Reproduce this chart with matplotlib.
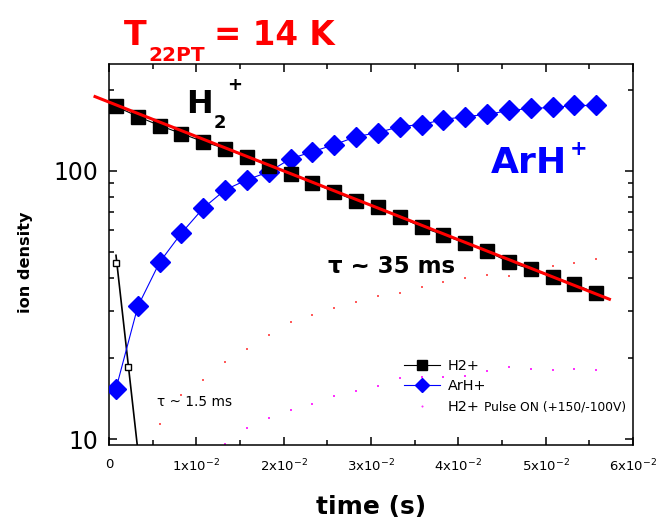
import numpy as np
import matplotlib.pyplot as plt
from matplotlib.ticker import LogLocator, NullFormatter
from matplotlib.lines import Line2D

plt.rcParams['font.family'] = ['DejaVu Sans']

# measurement times (s)
t = [0.0008, 0.0033, 0.0058, 0.0083, 0.0108, 0.0133, 0.0158, 0.0183,
     0.0208, 0.0233, 0.0258, 0.0283, 0.0308, 0.0333, 0.0358, 0.0383,
     0.0408, 0.0433, 0.0458, 0.0483, 0.0508, 0.0533, 0.0558]

h2 = [173.7, 159.3, 147.4, 137.6, 128.4, 120.9, 112.8, 104.4, 97.4, 90.2,
      83.4, 77.2, 73.3, 67.3, 61.7, 57.6, 53.7, 50.2, 45.6, 43.0, 40.1,
      37.8, 34.9]
arh = [15.4, 31.2, 45.6, 58.6, 72.6, 84.9, 92.5, 99.1, 110.9, 117.8, 125.1,
       134.0, 138.8, 146.1, 148.7, 155.2, 159.3, 162.1, 167.8, 170.7, 172.2,
       175.1, 175.1]

# pulse ON runs (tiny dots)
arh_pulse = [11.4, 14.6, 16.6, 19.4, 21.7, 24.5, 27.2, 28.9, 30.9, 32.3, 34.0,
             34.9, 36.8, 38.4, 39.7, 40.8, 40.4, 42.6, 44.1, 45.2, 46.8]
h2_pulse = [9.58, 11.0, 12.0, 12.8, 13.5, 14.5, 15.1, 15.7, 16.9, 17.1, 17.1,
            17.2, 18.0, 18.6, 18.3, 18.1, 18.3, 18.1]
h2_open_t = [0.0008, 0.00217]
h2_open = [45.2, 18.6]

# fit lines (end points)
fit_t = [-0.0016, 0.0573]
fit_v = [189, 33.2]
fast_t = [0.0008, 0.0034]
fast_v = [48.4, 8.5]

xticks = [0, 0.01, 0.02, 0.03, 0.04, 0.05, 0.06]
xlabels = ['0'] + [r'%dx10$^{\mathregular{-2}}$' % i for i in range(1, 7)]

W, H = 659, 523
fig = plt.figure(figsize=(W / 100, H / 100), dpi=100)
ax = fig.add_axes([109 / W, 1 - 445 / H, (633 - 109) / W, (445 - 64) / H])


def px(x, y):
    return x / W, 1 - y / H


ax.plot(t[2:], arh_pulse, 's', color='#ff5a5a', ms=1.6, mew=0, zorder=1)
ax.plot(t[5:], h2_pulse, 's', color='#ff30ff', ms=1.6, mew=0, zorder=1)

ax.plot(fast_t, fast_v, color='black', lw=1.2, zorder=2)
ax.plot(h2_open_t, h2_open, 's', mfc='white', mec='black', ms=5, mew=1, zorder=3)

ax.plot(t, arh, '-D', color='blue', lw=0.8, ms=10, zorder=3)
ax.plot(t, h2, '-s', color='black', lw=0.8, ms=10.5, zorder=4)
ax.plot(fit_t, fit_v, color='red', lw=2.2, zorder=5, clip_on=False)

ax.set_yscale('log')
ax.set_xlim(0, 0.06)
ax.set_ylim(9.5, 250)
ax.set_xticks(xticks, xlabels, fontsize=9.5)
ax.xaxis.set_minor_locator(plt.MultipleLocator(0.005))
ax.set_yticks([10, 100], ['10', '100'], fontsize=17)
ax.yaxis.set_minor_locator(LogLocator(base=10, subs=np.arange(2, 10)))
ax.yaxis.set_minor_formatter(NullFormatter())
ax.tick_params(which='both', direction='in', top=True, right=True, width=1.1)
ax.tick_params(which='major', length=6)
ax.tick_params(which='minor', length=3.5)
ax.tick_params(axis='x', pad=9)
ax.tick_params(axis='y', pad=8)
for s in ax.spines.values():
    s.set_linewidth(1.1)

ax.set_xlabel('time (s)', fontsize=18, fontweight='bold', labelpad=15)
ax.set_ylabel('ion density', fontsize=11.6, fontweight='bold')
ax.yaxis.set_label_coords(-0.145, 0.48)

# title
fig.text(*px(124, 45), 'T', color='red', fontsize=24, fontweight='bold')
fig.text(*px(148, 61), '22PT', color='red', fontsize=14.5, fontweight='bold')
fig.text(*px(214, 45), '= 14 K', color='red', fontsize=23.5, fontweight='bold')

# species labels
fig.text(*px(186, 113), 'H', fontsize=23, fontweight='bold')
fig.text(*px(214, 128), '2', fontsize=13, fontweight='bold')
fig.text(*px(227, 90), '+', fontsize=13, fontweight='bold')
fig.text(*px(491, 173), 'ArH', color='blue', fontsize=26, fontweight='bold')
fig.text(*px(570, 155), '+', color='blue', fontsize=15, fontweight='bold')

fig.text(*px(328, 273), 'τ ~ 35 ms', fontsize=16.5, fontweight='bold')
fig.text(*px(157, 406), 'τ ~ 1.5 ms', fontsize=9.8)

handles = [Line2D([], [], color='black', lw=0.8, marker='s', ms=7),
           Line2D([], [], color='blue', lw=0.8, marker='D', ms=7),
           Line2D([], [], color='#ff30ff', lw=0, marker='s', ms=0.5)]
ax.legend(handles, ['H2+', 'ArH+', 'H2+'], loc='upper left',
          bbox_to_anchor=px(398, 353), bbox_transform=fig.transFigure,
          frameon=False, fontsize=10.4, handlelength=2.5, handletextpad=0.55,
          labelspacing=0.45, borderaxespad=0)
fig.text(*px(484, 411), 'Pulse ON (+150/-100V)', fontsize=8.8)

fig.savefig('out.png', dpi=100)
